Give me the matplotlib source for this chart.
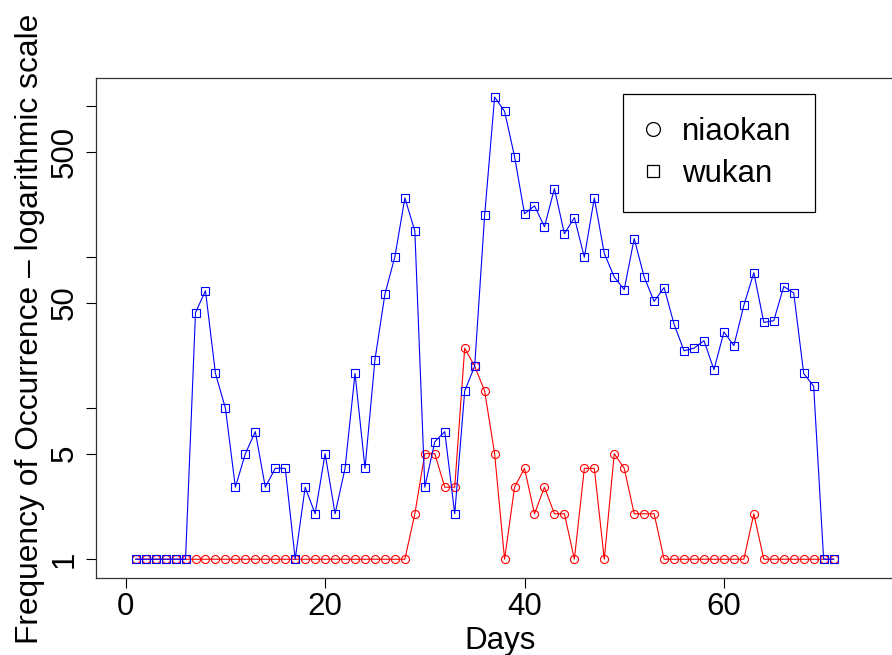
import numpy as np
import matplotlib
matplotlib.use("Agg")
import matplotlib.pyplot as plt
from matplotlib.lines import Line2D

# daily counts
days = list(range(1, 72))

niaokan = [1] * 28 + [2, 5, 5, 3, 3, 25, 19, 13, 5, 1,
                      3, 4, 2, 3, 2, 2, 1, 4, 4, 1,
                      5, 4, 2, 2, 2] + [1] * 9 + [2] + [1] * 8

wukan = [1, 1, 1, 1, 1, 1, 43, 60, 17, 10,
         3, 5, 7, 3, 4, 4, 1, 3, 2, 5,
         2, 4, 17, 4, 21, 57, 101, 247, 149, 3,
         6, 7, 2, 13, 19, 189, 1150, 925, 464, 194,
         219, 159, 285, 143, 183, 100, 247, 106, 74, 61,
         133, 74, 51, 63, 36, 24, 25, 28, 18, 32,
         26, 48, 79, 37, 38, 64, 58, 17, 14, 1, 1]

y_ticks = [1, 5, 10, 50, 100, 500, 1000]
y_tick_labels = ["1", "5", "", "50", "", "500", ""]
x_ticks = [0, 20, 40, 60]

plt.rcParams['font.family'] = ['Liberation Sans', 'DejaVu Sans']
fs = 22.5

W, H = 892, 655
fig = plt.figure(figsize=(W / 100, H / 100), dpi=100)
# plot box in pixels: left 96, right runs past the image edge, top 78, bottom 577.5
ax = fig.add_axes([96 / W, (H - 577.5) / H, 804 / W, 499.5 / H])

ax.plot(days, niaokan, color="red", lw=0.8, marker="o", ms=5.8,
        mfc="none", mew=0.8)
ax.plot(days, wukan, color="blue", lw=0.8, marker="s", ms=5.2,
        mfc="none", mew=0.8)

ax.set_yscale("log")
ax.set_xlim(-2.98, 77.66)
ax.set_ylim(10 ** -0.121, 10 ** 3.187)

ax.set_xticks(x_ticks)
ax.set_xticklabels([str(t) for t in x_ticks], fontsize=fs)
ax.yaxis.set_major_locator(matplotlib.ticker.FixedLocator(y_ticks))
ax.yaxis.set_minor_locator(matplotlib.ticker.NullLocator())
ax.set_yticklabels(y_tick_labels, fontsize=fs, rotation=90, va="center", ha="right")
ax.tick_params(axis="both", length=7, width=0.8)
ax.tick_params(axis="x", pad=3.5)
ax.tick_params(axis="y", pad=5)

for sp in ax.spines.values():
    sp.set_linewidth(0.9)
    sp.set_color("#333333")

fig.text(500 / W, (H - 641) / H, "Days", fontsize=fs, ha="center", va="center")
fig.text(30 / W, (H - 329) / H, "Frequency of Occurrence \u2013 logarithmic scale",
         fontsize=22.9, rotation=90, ha="center", va="center")

handles = [
    Line2D([], [], ls="none", marker="o", ms=10, mfc="none", mec="black", mew=0.9),
    Line2D([], [], ls="none", marker="s", ms=8.5, mfc="none", mec="black", mew=0.9),
]
leg = ax.legend(handles, ["niaokan", "wukan"], loc="upper left",
                bbox_to_anchor=(623 / W, 1 - 94 / H), bbox_transform=fig.transFigure,
                borderaxespad=0, fontsize=fs, fancybox=False, framealpha=1,
                edgecolor="black", borderpad=0.73, labelspacing=0.38,
                handlelength=0.45, handletextpad=0.72)
leg.get_frame().set_linewidth(0.9)

fig.savefig("out.png", dpi=100)
